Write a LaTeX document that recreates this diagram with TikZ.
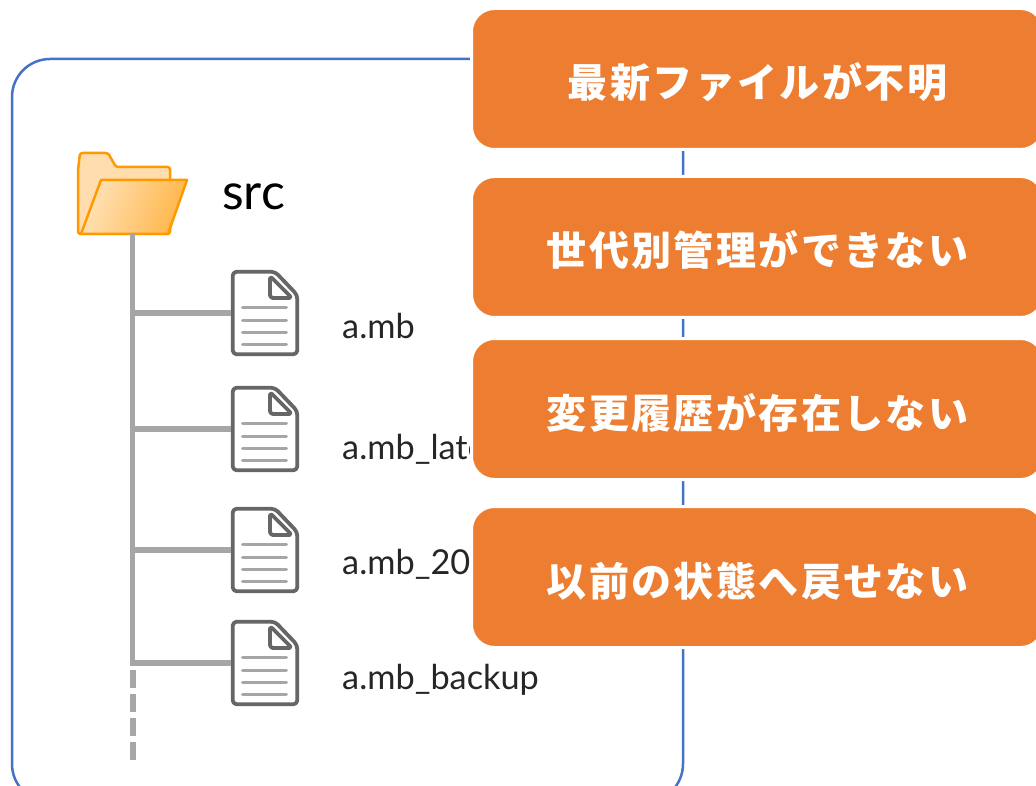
\documentclass[tikz,border=0pt]{standalone}
\usepackage{fontspec}
\setmainfont{Lato}
\newfontfamily\cjk[LetterSpace=6]{Noto Sans CJK JP}
\usetikzlibrary{shadings}
\definecolor{frameblue}{HTML}{4472C4}
\definecolor{boxorange}{HTML}{ED7D31}
\definecolor{linegray}{HTML}{A6A6A6}
\definecolor{icongray}{HTML}{666666}
\definecolor{folderline}{HTML}{FF9900}
\definecolor{folderback}{HTML}{FFDDAE}
\definecolor{folderlight}{HTML}{FFE2B8}
\definecolor{folderdark}{HTML}{FFB64A}
\newcommand{\issuetext}[1]{\raisebox{-19pt}[0pt][0pt]{#1}}
\tikzset{
  x=1pt,y=-1pt,
  frameline/.style={draw=frameblue,line width=2.5pt},
  branch/.style={draw=linegray,line width=5.5pt},
  issue/.style={fill=boxorange,draw=white,line width=3pt,rounded corners=23pt,minimum width=572pt,minimum height=141pt,inner sep=0pt,
    text=white,font=\cjk\bfseries\fontsize{40}{46}\selectfont},
  label/.style={anchor=base west,inner sep=0pt,text=black!85,font=\fontsize{34.3}{39}\selectfont},
  pics/docicon/.style={code={
    \node[inner sep=0pt,minimum width=68pt,minimum height=86pt] (-b) at (34,43) {};
    \draw[draw=icongray,fill=white,line width=3.8pt,line join=round,rounded corners=4pt]
      (20,1.7) -- (1.7,1.7) -- (1.7,84.3) -- (66.3,84.3) -- (66.3,25) -- (44,1.7) -- cycle;
    \draw[draw=icongray,fill=white,line width=3.8pt,line join=round,rounded corners=3pt]
      (39,6) -- (39,28) -- (61,28) -- cycle;
    \foreach \ly in {37.7,50.3,62.3,74.3}
      \draw[draw=linegray,line width=3pt,line cap=round] (11.5,\ly) -- (55.5,\ly);
  }}
}
\begin{document}
\begin{tikzpicture}
\useasboundingbox (0,0) rectangle (1036,786);
\clip (0,0) rectangle (1036,786);
\draw[frameline,rounded corners=38pt] (12,140) |- (683,59) -- (683,802) -- (12,802) -- cycle;
% folder
\draw[draw=folderline,fill=folderback,line width=2.5pt,line join=round,rounded corners=2.5pt]
  (78,234) -- (78,170) -- (80,153) -- (108,153) -- (116,167) -- (170,167) -- (170,182) -- (170,234) -- cycle;
\node[inner sep=0pt,minimum width=110pt,minimum height=82pt] (folder) at (133,193) {};
\draw[draw=folderline,line width=2.5pt,line join=round,left color=folderlight,right color=folderdark,shading angle=70]
  (101,180) -- (187,180) -- (168,234) -- (81,234) -- cycle;
\node[anchor=base west,inner sep=0pt,text=black,font=\fontsize{50}{56}\selectfont] (srclabel) at (222,210) {src};
% documents
\coordinate (trunkend) at (132.5,760);
\pic (doc1) at (231,270) {docicon};
\pic (doc2) at (231,386) {docicon};
\pic (doc3) at (231,507) {docicon};
\pic (doc4) at (231,620) {docicon};
\coordinate (trunktop) at (folder.south -| trunkend);
\coordinate (trunklast) at (doc4-b.west -| trunkend);
\draw[branch] (doc1-b.west) -- (doc1-b.west -| trunkend);
\draw[branch] (doc2-b.west) -- (doc2-b.west -| trunkend);
\draw[branch] (doc3-b.west) -- (doc3-b.west -| trunkend);
\draw[branch,line join=miter] (trunktop) -- (trunklast) -- (doc4-b.west);
\draw[draw=linegray,line width=6pt,dash pattern=on 18pt off 6pt] ([yshift=-7pt]trunklast) -- (trunkend);
\node[label] (lab1) at (342,338) {a.mb};
\node[label] (lab2) at (342,459) {a.mb\_late};
\node[label] (lab3) at (342,574) {a.mb\_20};
\node[label] (lab4) at (342,689) {a.mb\_backup};
% issues
\node[issue] (iss1) at (757.5,79) {\issuetext{最新ファイルが不明}};
\node[issue] (iss2) at (757.5,247) {\issuetext{世代別管理ができない}};
\node[issue] (iss3) at (757.5,409) {\issuetext{変更履歴が存在しない}};
\node[issue] (iss4) at (757.5,577) {\issuetext{以前の状態へ戻せない}};
\end{tikzpicture}
\end{document}
